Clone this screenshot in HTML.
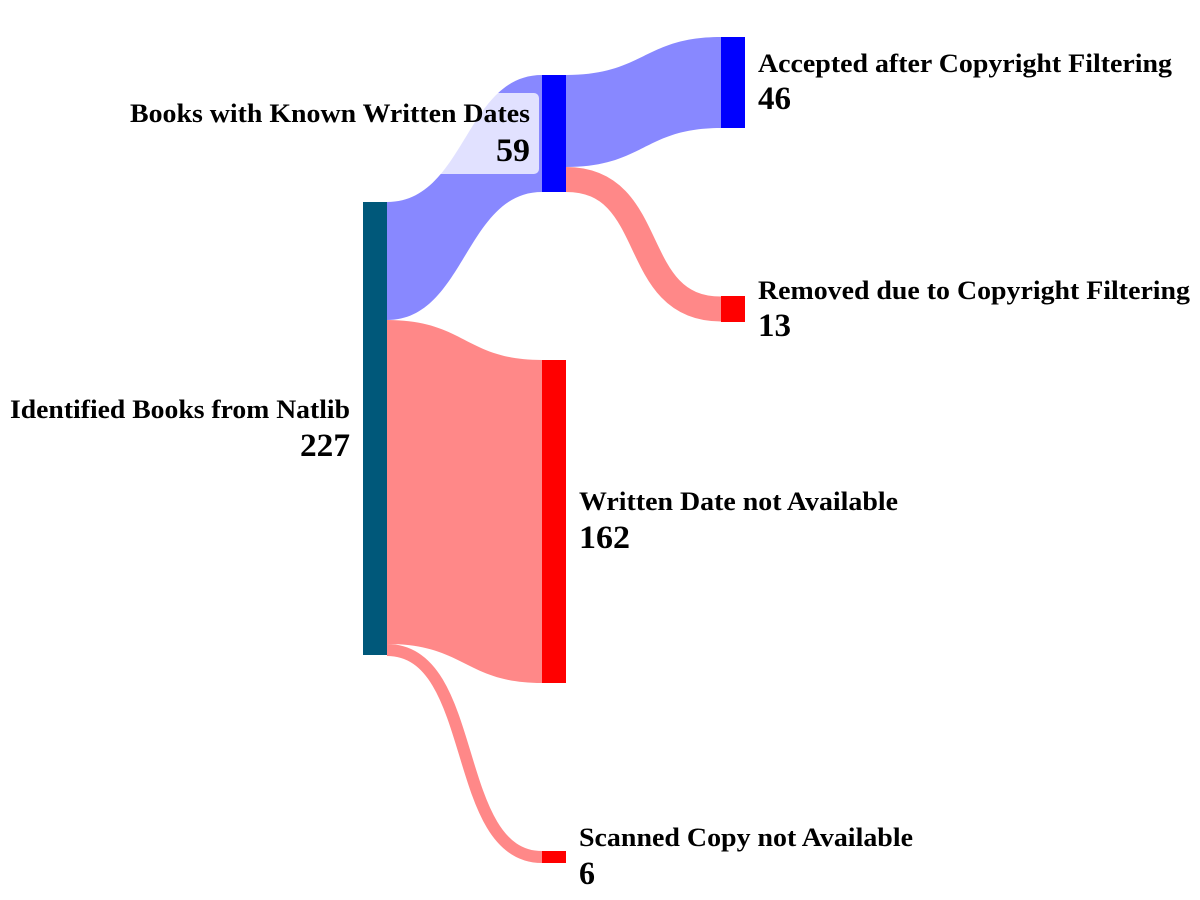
<!DOCTYPE html>
<html><head><meta charset="utf-8"><style>
html,body{margin:0;padding:0;background:#fff;}
svg{display:block;}
text{font-family:"Liberation Serif",serif;font-weight:bold;fill:#000;}
.l{font-size:26px;}
.n{font-size:33px;}
</style></head><body>
<svg width="1200" height="900" viewBox="0 0 1200 900">
<!-- links -->
<path d="M387,202 C465,202 465,75 542,75 L542,192 C465,192 465,320 387,320 Z" fill="#8888ff"/>
<path d="M387,320 C465,320 465,360 542,360 L542,683 C465,683 465,644 387,644 Z" fill="#ff8888"/>
<path d="M387,650 C480,650 450,857 542,857" fill="none" stroke="#ff8888" stroke-width="12"/>
<path d="M566,75 C644,75 644,37 721,37 L721,128 C644,128 644,167 566,167 Z" fill="#8888ff"/>
<path d="M566,179.5 C660,179.5 627,309 721,309" fill="none" stroke="#ff8888" stroke-width="25"/>
<!-- nodes -->
<rect x="363" y="202" width="24" height="453" fill="#00587a"/>
<rect x="542" y="75" width="24" height="117" fill="#0000ff"/>
<rect x="542" y="360" width="24" height="323" fill="#ff0000"/>
<rect x="542" y="851" width="24" height="12" fill="#ff0000"/>
<rect x="721" y="37" width="24" height="91" fill="#0000ff"/>
<rect x="721" y="296" width="24" height="26" fill="#ff0000"/>
<!-- label box -->
<rect x="405" y="93" width="134" height="81" rx="5" fill="#ffffff" opacity="0.75"/>
<!-- labels -->
<text class="l" x="130" y="122" textLength="400" lengthAdjust="spacingAndGlyphs">Books with Known Written Dates</text>
<text class="n" x="496" y="161" textLength="34" lengthAdjust="spacingAndGlyphs">59</text>
<text class="l" x="10" y="418" textLength="340" lengthAdjust="spacingAndGlyphs">Identified Books from Natlib</text>
<text class="n" x="300" y="456" textLength="50" lengthAdjust="spacingAndGlyphs">227</text>
<text class="l" x="758" y="72" textLength="414" lengthAdjust="spacingAndGlyphs">Accepted after Copyright Filtering</text>
<text class="n" x="758" y="109" textLength="33" lengthAdjust="spacingAndGlyphs">46</text>
<text class="l" x="758" y="299" textLength="432" lengthAdjust="spacingAndGlyphs">Removed due to Copyright Filtering</text>
<text class="n" x="758" y="336" textLength="33" lengthAdjust="spacingAndGlyphs">13</text>
<text class="l" x="579" y="510" textLength="319" lengthAdjust="spacingAndGlyphs">Written Date not Available</text>
<text class="n" x="579" y="548" textLength="51" lengthAdjust="spacingAndGlyphs">162</text>
<text class="l" x="579" y="846" textLength="334" lengthAdjust="spacingAndGlyphs">Scanned Copy not Available</text>
<text class="n" x="579" y="884" textLength="16" lengthAdjust="spacingAndGlyphs">6</text>
</svg>
</body></html>
